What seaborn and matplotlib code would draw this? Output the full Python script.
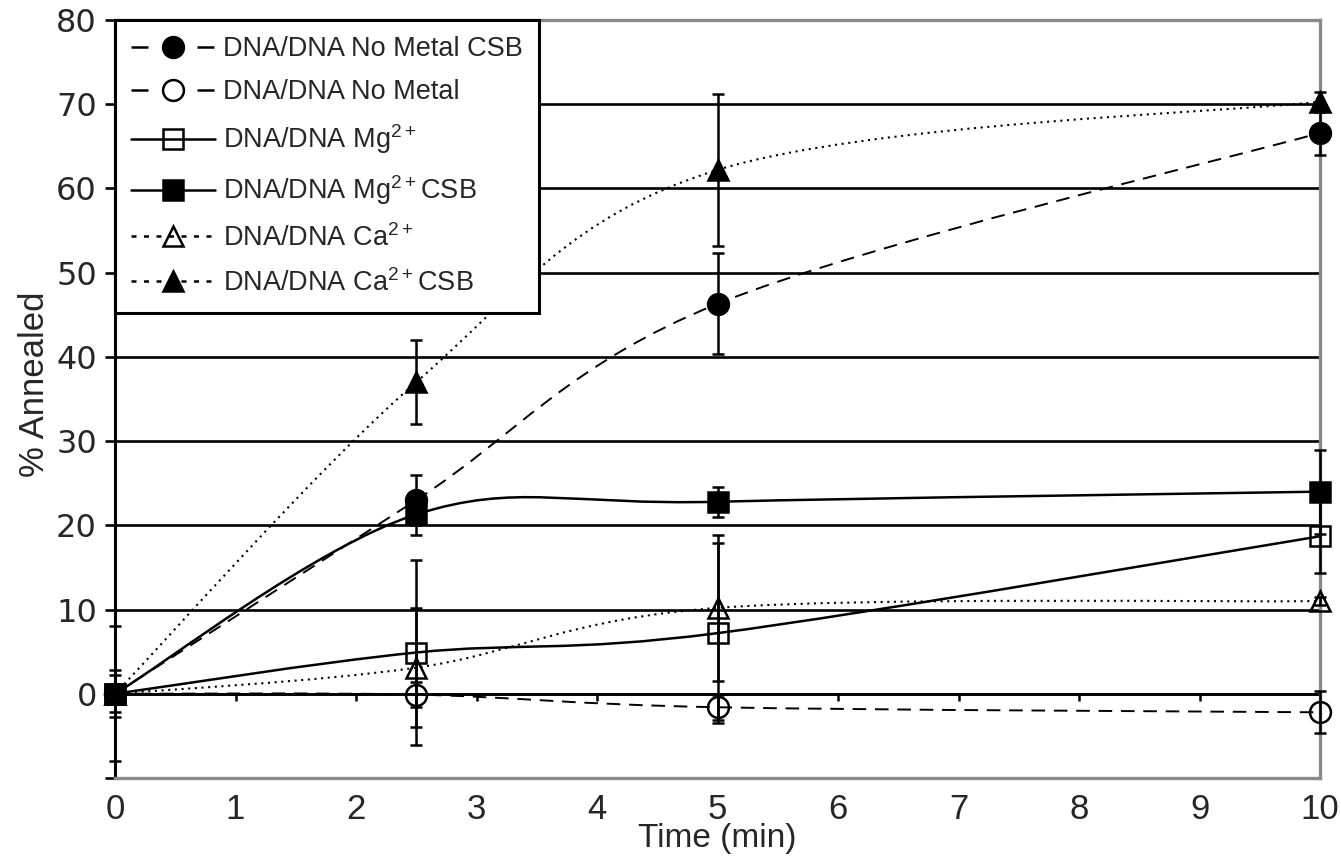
import numpy as np
import matplotlib
matplotlib.use("Agg")
import matplotlib.pyplot as plt
from matplotlib.path import Path
from matplotlib.patches import PathPatch
from matplotlib.lines import Line2D
import seaborn as sns

# ---- data ----
time_min = [0, 2.5, 5, 10]

nometal_csb = [0, 23.0, 46.3, 66.6]
nometal_csb_err = [0, 3.0, 6.0, 2.6]
nometal = [0, -0.1, -1.6, -2.2]
nometal_err = [0, 1.5, 1.5, 2.5]
mg = [0, 4.9, 7.2, 18.7]
mg_err = [8.0, 11.0, 10.7, 4.4]
mg_csb = [0, 21.3, 22.8, 24.0]
mg_csb_err = [2.2, 2.4, 1.8, 5.0]
ca = [0, 3.1, 10.2, 11.0]
ca_err = [2.8, 7.1, 8.7, 0.5]
ca_csb = [0, 37.0, 62.2, 70.3]
ca_csb_err = [0, 5.0, 9.0, 1.2]

labels = ['DNA/DNA No Metal CSB', 'DNA/DNA No Metal', 'DNA/DNA Mg$^{2+}$',
          'DNA/DNA Mg$^{2+}$CSB', 'DNA/DNA Ca$^{2+}$', 'DNA/DNA Ca$^{2+}$CSB']

sns.set_theme(style='white')
plt.rcParams['font.family'] = ['Liberation Sans', 'DejaVu Sans']
plt.rcParams['mathtext.default'] = 'regular'

DASH = (0, (7, 4.5))
DOT = (0, (1, 2.2))
LEG_DASH = (0, (6.8, 19.6))
LEG_DOT = (0, (2, 3))

# (values, errors, marker, filled, linestyle, legend style, linewidth)
series = [
    (nometal_csb, nometal_csb_err, 'o', True, DASH, LEG_DASH, 1.4),
    (nometal, nometal_err, 'o', False, DASH, LEG_DASH, 1.4),
    (mg, mg_err, 's', False, '-', '-', 1.8),
    (mg_csb, mg_csb_err, 's', True, '-', '-', 1.8),
    (ca, ca_err, '^', False, DOT, LEG_DOT, 1.5),
    (ca_csb, ca_csb_err, '^', True, DOT, LEG_DOT, 1.5),
]
msize = {'o': 15, 's': 14, '^': 15}


# Excel-style smoothed line (Catmull-Rom bezier through the points)
def smooth_path(xs, ys):
    pts = np.column_stack([xs, ys]).astype(float)
    n = len(pts)
    verts = [pts[0]]
    codes = [Path.MOVETO]
    for i in range(n - 1):
        p0 = pts[max(i - 1, 0)]
        p1, p2 = pts[i], pts[i + 1]
        p3 = pts[min(i + 2, n - 1)]
        verts += [p1 + (p2 - p0) / 6, p2 - (p3 - p1) / 6, p2]
        codes += [Path.CURVE4] * 3
    return Path(verts, codes)


fig = plt.figure(figsize=(13.41, 8.61), dpi=100)
ax = fig.add_axes([115 / 1341, 1 - 778 / 861, 1205 / 1341, 758 / 861])

handles = []
for (vals, errs, mk, filled, ls, lls, lw), lab in zip(series, labels):
    ax.add_patch(PathPatch(smooth_path(time_min, vals), facecolor='none',
                           edgecolor='black', lw=lw, ls=ls, zorder=3))
    eb = ax.errorbar(time_min, vals, yerr=errs, fmt='none', ecolor='black',
                     elinewidth=1.8, capsize=4.5, capthick=1.8, zorder=4)
    for art in eb.lines[1] + eb.lines[2]:
        art.set_clip_on(False)
    fc = 'black' if filled else 'none'
    sns.lineplot(x=time_min, y=vals, ax=ax, estimator=None, linestyle='',
                 marker=mk, markersize=msize[mk], markerfacecolor=fc,
                 markeredgecolor='black', markeredgewidth=1.8, color='black',
                 legend=False, zorder=5, clip_on=False)
    handles.append(Line2D([], [], color='black', lw=1.8, ls=lls, marker=mk,
                          markersize=msize[mk], markerfacecolor=fc,
                          markeredgecolor='black', markeredgewidth=1.8))

ax.set_xlim(0, 10)
ax.set_ylim(-10, 80)
ax.set_xticks(range(0, 11))
ax.set_xticklabels([str(i) for i in range(0, 11)], fontsize=25)
yt = list(range(-10, 81, 10))
ax.set_yticks(yt)
ax.set_yticklabels(['' if v < 0 else str(v) for v in yt],
                   fontsize=23, family='DejaVu Sans')
ax.tick_params(axis='x', length=0, pad=11)
ax.tick_params(axis='y', direction='out', length=7, width=1.9, color='black',
               pad=6, left=True)
ax.grid(axis='y', color='black', lw=1.9)
ax.set_axisbelow(True)

for side in ['top', 'right', 'bottom']:
    ax.spines[side].set_color('#8a8a8a')
    ax.spines[side].set_linewidth(2.4)
ax.spines['left'].set_color('black')
ax.spines['left'].set_linewidth(2.2)

# x axis line crossing at y = 0 with small tick marks
sec = ax.secondary_xaxis(0, transform=ax.transData)
sec.set_xticks(range(0, 11))
sec.tick_params(direction='out', length=5, width=1.8, color='black',
                labelbottom=False)
sec.spines['bottom'].set_color('black')
sec.spines['bottom'].set_linewidth(1.9)

ax.set_xlabel('Time (min)', fontsize=24, labelpad=-2)
ax.set_ylabel('% Annealed', fontsize=25)
ax.yaxis.set_label_coords(-0.053, 0.52)

leg = ax.legend(handles=handles, labels=labels, loc='upper left',
                bbox_to_anchor=(0, 1), borderaxespad=0, fontsize=19.5,
                frameon=True, fancybox=False, framealpha=1, edgecolor='black',
                handlelength=3.1, handletextpad=0.3, labelspacing=0.63,
                borderpad=0.6)
leg.get_frame().set_linewidth(2.2)
leg.set_zorder(10)

fig.savefig('out.png', dpi=100)
